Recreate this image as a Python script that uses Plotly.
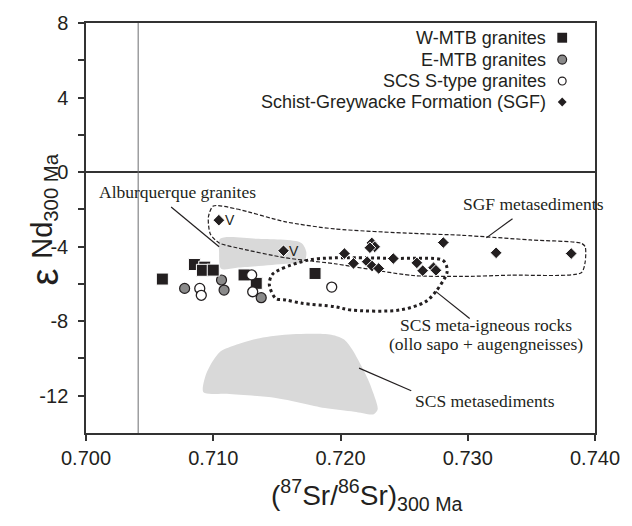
import plotly.graph_objects as go

# ---------------- data ----------------
wmtb_sr = [0.70600, 0.70852, 0.70933, 0.70915, 0.71000, 0.71242, 0.71338, 0.71800]
wmtb_nd = [-5.74, -4.96, -5.10, -5.27, -5.26, -5.52, -5.97, -5.44]

emtb_sr = [0.70775, 0.71065, 0.71085, 0.71377]
emtb_nd = [-6.24, -5.79, -6.33, -6.74]

scs_sr = [0.70894, 0.70906, 0.71302, 0.71310, 0.71931]
scs_nd = [-6.24, -6.61, -5.52, -6.42, -6.17]

sgf_sr = [0.71044, 0.71552, 0.72031, 0.72102, 0.72210, 0.72248, 0.72300, 0.72246,
          0.72269, 0.72231, 0.72415, 0.72600, 0.72646, 0.72731, 0.72750, 0.72808,
          0.73223, 0.73813]
sgf_nd = [-2.58, -4.22, -4.37, -4.90, -4.81, -5.04, -5.17, -3.80,
          -4.01, -4.06, -4.64, -4.87, -5.29, -5.13, -5.27, -3.78,
          -4.33, -4.37]
v_sr = [0.71044, 0.71552]
v_nd = [-2.58, -4.22]

# field outlines
alb_sr = [0.71054, 0.71338, 0.71692, 0.71731, 0.71715, 0.71569, 0.71185, 0.71062, 0.71046, 0.71054]
alb_nd = [-3.58, -3.58, -3.80, -4.28, -4.81, -4.92, -5.13, -5.19, -4.28, -3.58]

scsmeta_sr = [0.70923, 0.70938, 0.70979, 0.71056, 0.71185, 0.71364, 0.71621, 0.71928, 0.72031,
              0.72092, 0.72159, 0.72223, 0.72262, 0.72292, 0.72262, 0.72108, 0.71877, 0.71492,
              0.71108, 0.70923]
scsmeta_nd = [-11.82, -10.96, -10.34, -9.63, -9.25, -8.91, -8.70, -8.73, -9.00,
              -9.52, -10.34, -11.23, -11.94, -12.73, -12.99, -12.86, -12.66, -12.12,
              -11.90, -11.82]

sgfenv_sr = [0.71000, 0.71185, 0.71569, 0.71954, 0.72569, 0.72954, 0.73492, 0.73892, 0.73923,
             0.73923, 0.73892, 0.73338, 0.72954, 0.72569, 0.71954, 0.71569, 0.71185, 0.71046,
             0.70977, 0.70962, 0.71000]
sgfenv_nd = [-1.82, -1.98, -2.67, -3.05, -3.29, -3.39, -3.64, -3.82, -4.01,
             -4.81, -5.40, -5.53, -5.60, -5.55, -4.92, -4.60, -4.06, -3.80,
             -3.32, -2.41, -1.82]

scsig_sr = [0.71462, 0.71544, 0.71748, 0.71954, 0.72415, 0.72800, 0.72831, 0.72838, 0.72825,
            0.72748, 0.72669, 0.72467, 0.72082, 0.71954, 0.71698, 0.71569, 0.71492, 0.71441,
            0.71462]
scsig_nd = [-5.51, -5.17, -4.72, -4.60, -4.63, -4.72, -4.99, -5.35, -5.61,
            -6.42, -6.95, -7.40, -7.40, -7.22, -7.04, -6.86, -6.78, -6.06,
            -5.51]

bulk_earth_sr = 0.7041

x_ticks = [0.700, 0.710, 0.720, 0.730, 0.740]
y_ticks = [-12, -8, -4, 0, 4, 8]
y_tick_text = ["-12", "-8", "-4", "0", "4", "8"]

legend_names = ["W-MTB granites", "E-MTB granites", "SCS S-type granites",
                "Schist-Greywacke Formation (SGF)"]

# ---------------- figure ----------------
X0, X1, YT, YB = 86, 606, 20.7, 432.7
def pxx(x):
    return (x - X0) / (X1 - X0)
def pyy(y):
    return (YB - y) / (YB - YT)

SANS = "Liberation Sans, Arial, sans-serif"
SERIF = "Liberation Serif, Times New Roman, serif"
INK = "#231f20"

fig = go.Figure()

fig.add_trace(go.Scatter(x=alb_sr, y=alb_nd, mode="lines", fill="toself",
                         fillcolor="#d9d9d9", line=dict(width=0, shape="spline", smoothing=0.8),
                         hoverinfo="skip", showlegend=False))
fig.add_trace(go.Scatter(x=scsmeta_sr, y=scsmeta_nd, mode="lines", fill="toself",
                         fillcolor="#d9d9d9", line=dict(width=0, shape="spline", smoothing=0.8),
                         hoverinfo="skip", showlegend=False))
fig.add_trace(go.Scatter(x=sgfenv_sr, y=sgfenv_nd, mode="lines",
                         line=dict(width=1.2, color=INK, dash="4px,2px", shape="spline", smoothing=0.7),
                         hoverinfo="skip", showlegend=False))
fig.add_trace(go.Scatter(x=scsig_sr, y=scsig_nd, mode="lines",
                         line=dict(width=3, color=INK, dash="dot", shape="spline", smoothing=0.9),
                         hoverinfo="skip", showlegend=False))

fig.add_trace(go.Scatter(x=sgf_sr, y=sgf_nd, mode="markers", name=legend_names[3],
                         marker=dict(symbol="diamond", size=9, color=INK,
                                     line=dict(width=1, color="white")), showlegend=False))
fig.add_trace(go.Scatter(x=emtb_sr, y=emtb_nd, mode="markers", name=legend_names[1],
                         marker=dict(symbol="circle", size=10, color="#8a8a8a",
                                     line=dict(width=1.2, color=INK)), showlegend=False))
fig.add_trace(go.Scatter(x=wmtb_sr, y=wmtb_nd, mode="markers", name=legend_names[0],
                         marker=dict(symbol="square", size=12, color=INK,
                                     line=dict(width=1, color="white")), showlegend=False))
fig.add_trace(go.Scatter(x=scs_sr, y=scs_nd, mode="markers", name=legend_names[2],
                         marker=dict(symbol="circle", size=10, color="white",
                                     line=dict(width=1.3, color=INK)), showlegend=False))

# vertical reference line
fig.add_shape(type="line", x0=bulk_earth_sr, x1=bulk_earth_sr, y0=-14, y1=8,
              xref="x", yref="y", line=dict(color="#6d6e71", width=1))

# V labels
for xs, ys in zip(v_sr, v_nd):
    fig.add_annotation(x=xs, y=ys, text="V", showarrow=False, xanchor="left",
                       xshift=4, font=dict(family=SANS, size=14, color=INK))

# leader lines
leaders = [((0.70669, -1.87), (0.71046, -4.01)),
           ((0.73352, -2.50), (0.73146, -3.53)),
           ((0.72748, -6.40), (0.73015, -7.86)),
           ((0.72146, -10.52), (0.72556, -11.73))]
for (a, b) in leaders:
    fig.add_shape(type="line", x0=a[0], y0=a[1], x1=b[0], y1=b[1], xref="x", yref="y",
                  line=dict(color=INK, width=1.2))

# field labels
lab_font = dict(family=SERIF, size=17.5, color=INK)
fig.add_annotation(x=0.70087, y=-1.07, text="Alburquerque granites", showarrow=False,
                   xanchor="left", font=lab_font)
fig.add_annotation(x=0.72948, y=-1.70, text="SGF metasediments", showarrow=False,
                   xanchor="left", font=lab_font)
fig.add_annotation(x=0.73146, y=-8.23, text="SCS meta-igneous rocks", showarrow=False,
                   xanchor="center", font=lab_font)
fig.add_annotation(x=0.73146, y=-9.23, text="(ollo sapo + augengneisses)", showarrow=False,
                   xanchor="center", font=lab_font)
fig.add_annotation(x=0.72569, y=-12.26, text="SCS metasediments", showarrow=False,
                   xanchor="left", font=lab_font)

# manual legend (text left, key right)
leg_y = [35.5, 57.5, 79, 100]
for name, yy in zip(legend_names, leg_y):
    fig.add_annotation(x=pxx(558), y=pyy(yy), xref="paper", yref="paper", text=name,
                       showarrow=False, xanchor="right", yanchor="middle",
                       font=dict(family=SANS, size=18, color=INK))
kx = 572.5
r = 5
fig.add_shape(type="rect", xref="paper", yref="paper", x0=pxx(kx - r), x1=pxx(kx + r),
              y0=pyy(leg_y[0] + r), y1=pyy(leg_y[0] - r), fillcolor=INK, line=dict(width=0))
r = 4.5
fig.add_shape(type="circle", xref="paper", yref="paper", x0=pxx(kx - r), x1=pxx(kx + r),
              y0=pyy(leg_y[1] + r), y1=pyy(leg_y[1] - r), fillcolor="#8a8a8a",
              line=dict(width=1.2, color=INK))
r = 4
fig.add_shape(type="circle", xref="paper", yref="paper", x0=pxx(kx - r), x1=pxx(kx + r),
              y0=pyy(leg_y[2] + r), y1=pyy(leg_y[2] - r), fillcolor="white",
              line=dict(width=1.2, color=INK))
r = 4.5
d = leg_y[3]
fig.add_shape(type="path", xref="paper", yref="paper",
              path=f"M {pxx(kx)},{pyy(d - r)} L {pxx(kx + r)},{pyy(d)} L {pxx(kx)},{pyy(d + r)} L {pxx(kx - r)},{pyy(d)} Z",
              fillcolor=INK, line=dict(width=0))

# axis titles
fig.add_annotation(x=pxx(373), y=pyy(517), xref="paper", yref="paper",
                   text="(<sup>87</sup>Sr/<sup>86</sup>Sr)<sub>300 Ma</sub>", showarrow=False,
                   font=dict(family=SANS, size=28, color=INK))
fig.add_annotation(x=pxx(21), y=pyy(276), xref="paper", yref="paper", textangle=-90,
                   text="ε", showarrow=False,
                   font=dict(family=SANS, size=38, color=INK))
fig.add_annotation(x=pxx(23), y=pyy(205), xref="paper", yref="paper", textangle=-90,
                   text="Nd<sub>300 Ma</sub>", showarrow=False,
                   font=dict(family=SANS, size=29, color=INK))

fig.update_xaxes(range=[0.700, 0.740], tickvals=x_ticks, tickformat=".3f",
                 ticks="outside", ticklen=6, tickwidth=1.5, tickcolor="#333",
                 showline=True, linecolor="#333", linewidth=1.5, mirror=True,
                 showgrid=False, zeroline=False,
                 tickfont=dict(family=SANS, size=20, color=INK))
fig.update_yaxes(range=[-14, 8], tickvals=y_ticks, ticktext=y_tick_text,
                 ticks="outside", ticklen=6, tickwidth=1.5, tickcolor="#333",
                 minor=dict(tickvals=[-10, -6, -2, 2, 6], ticks="outside", ticklen=6,
                            tickwidth=1.5, tickcolor="#333"),
                 showline=True, linecolor="#333", linewidth=1.5, mirror=True,
                 showgrid=False, zeroline=True, zerolinecolor="#333", zerolinewidth=1.5,
                 ticklabelstandoff=6,
                 tickfont=dict(family=SANS, size=20, color=INK))

fig.update_layout(width=632, height=526, margin=dict(l=86, r=26, t=21, b=93),
                  paper_bgcolor="white", plot_bgcolor="white", showlegend=False)

fig.write_html("out.html")
